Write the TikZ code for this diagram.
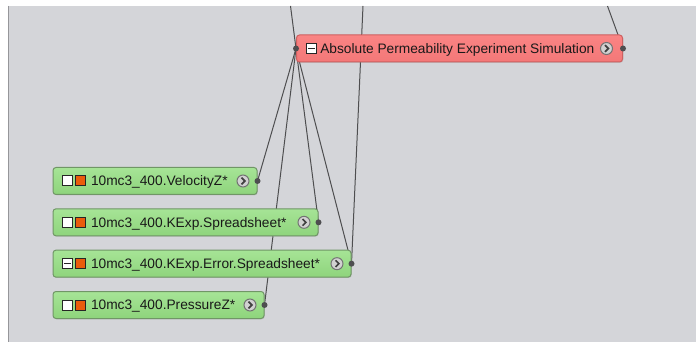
\documentclass[tikz,border=0pt]{standalone}
\usepackage{fontspec}
\setmainfont{Liberation Sans}
\definecolor{canvas}{RGB}{212,213,217}
\definecolor{edgeline}{RGB}{150,150,154}
\definecolor{gtop}{RGB}{166,228,150}
\definecolor{gbot}{RGB}{142,212,124}
\definecolor{gline}{RGB}{112,150,102}
\definecolor{rtop}{RGB}{250,132,132}
\definecolor{rbot}{RGB}{243,120,120}
\definecolor{rline}{RGB}{206,96,96}
\definecolor{portorange}{RGB}{234,92,12}
\definecolor{linkgray}{RGB}{78,78,80}
\usetikzlibrary{positioning,backgrounds,shadows}

\begin{document}
\begin{tikzpicture}[x=0.75pt, y=-0.75pt, line width=0.75pt,
  every node/.style={font=\fontsize{10.3pt}{12pt}\selectfont},
  box/.style={rounded corners=2.25pt, minimum height=20.25pt, inner sep=0pt, anchor=west,
    drop shadow={shadow xshift=.6pt, shadow yshift=-.6pt, opacity=.25}},
  gbox/.style={box, draw=gline, top color=gtop, bottom color=gbot},
  rbox/.style={box, draw=rline, top color=rtop, bottom color=rbot},
  sq/.style={draw=black!85, fill=white, minimum size=7.5pt, inner sep=0pt},
  osq/.style={sq, fill=portorange},
  msq/.style={sq, path picture={\draw[line width=0.9pt, black!85]
    ([xshift=-2.4pt]path picture bounding box.center) -- ([xshift=2.4pt]path picture bounding box.center);}},
  go/.style={circle, draw=black!55, fill=black!18, minimum size=9pt, inner sep=0pt,
    path picture={\draw[line width=1.2pt, black!75] ([shift={(-1.1pt,2.5pt)}]path picture bounding box.center)
      -- ++(2.5pt,-2.5pt) -- ++(-2.5pt,-2.5pt);}},
  dot/.style={circle, fill=linkgray, minimum size=4.5pt, inner sep=0pt},
  txt/.style={inner sep=0pt, text=black!90, text height=7.4pt, text depth=0pt},
  link/.style={draw=linkgray, line width=0.75pt}]

\useasboundingbox (0,0) rectangle (696,342);

\node[rbox, minimum width=244.5pt] (sim) at (296,48.5) {};
\node[msq, right=7.4pt of sim.west] (sim-a) {};
\node[txt, right=2.2pt of sim-a] (sim-t) {Absolute Permeability Experiment Simulation};
\node[go, left=7.5pt of sim.east] (sim-g) {};
\node[dot] (sim-in) at (sim.west) {};
\node[dot] (sim-out) at (sim.east) {};

\node[gbox, minimum width=153pt] (vel) at (52.5,181) {};
\node[gbox, minimum width=198.75pt, below=10pt of vel.south west, anchor=north west] (kexp) {};
\node[gbox, minimum width=223.5pt, below=10pt of kexp.south west, anchor=north west] (kerr) {};
\node[gbox, minimum width=158.25pt, below=10pt of kerr.south west, anchor=north west] (pres) {};

\foreach \n/\s in {vel/sq, kexp/sq, kerr/msq, pres/sq} {
  \node[\s, right=7pt of \n.west] (\n-a) {};
  \node[osq, right=1.9pt of \n-a] (\n-b) {};
  \node[go, left=6pt of \n.east] (\n-g) {};
  \node[dot] (\n-o) at (\n.east) {};
}

\node[txt, right=3.1pt of vel-b] (vel-t) {10mc3\_400.VelocityZ*};
\node[txt, right=3.1pt of kexp-b] (kexp-t) {10mc3\_400.KExp.Spreadsheet*};
\node[txt, right=3.1pt of kerr-b] (kerr-t) {10mc3\_400.KExp.Error.Spreadsheet*};
\node[txt, right=3.1pt of pres-b] (pres-t) {10mc3\_400.PressureZ*};

\coordinate (up-a) at (290.5,6);
\coordinate (up-b) at (363,6);
\coordinate (up-c) at (607.5,6);

\begin{scope}[on background layer]
  \fill[white] (0,0) rectangle (696,342);
  \fill[canvas] (8,6) rectangle (696,342);
  \draw[edgeline] (8.4,6) -- (8.4,342);
  \draw[link] (sim-in.center) -- (up-a);
  \draw[link] (sim-in.center) -- (vel-o.center);
  \draw[link] (sim-in.center) -- (kexp-o.center);
  \draw[link] (sim-in.center) -- (kerr-o.center);
  \draw[link] (sim-in.center) -- (pres-o.center);
  \draw[link] (kerr-o.center) -- (up-b);
  \draw[link] (sim-out.center) -- (up-c);
\end{scope}

\end{tikzpicture}
\end{document}
